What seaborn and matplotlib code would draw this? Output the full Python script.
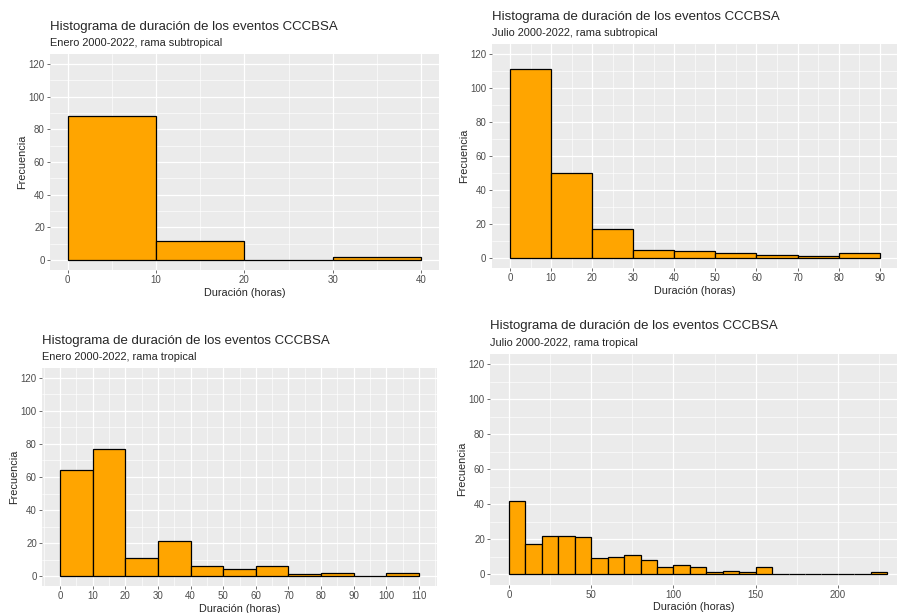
import numpy as np
import pandas as pd
import matplotlib
matplotlib.use("Agg")
import matplotlib.pyplot as plt
import seaborn as sns
from matplotlib.ticker import MultipleLocator

sns.set_style("white")
plt.rcParams['font.family'] = ['Liberation Sans', 'DejaVu Sans']

titulo = "Histograma de duración de los eventos CCCBSA"
subtitulos = ["Enero 2000-2022, rama subtropical",
              "Julio 2000-2022, rama subtropical",
              "Enero 2000-2022, rama tropical",
              "Julio 2000-2022, rama tropical"]

ancho_bin = 10
# frecuencias por bin de 10 horas, empezando en 0
enero_subtrop = [88, 12, 0, 2]
julio_subtrop = [111, 50, 17, 5, 4, 3, 2, 1, 3]
enero_trop = [64, 77, 11, 21, 6, 4, 6, 1, 2, 0, 2]
julio_trop = [42, 17, 22, 22, 21, 9, 10, 11, 8, 4, 5, 4, 1, 2, 1, 4,
              0, 0, 0, 0, 0, 0, 1]

W, H = 897, 613
fig = plt.figure(figsize=(W / 100, H / 100), dpi=100)

# (left, top, right, bottom) px, xlim, x major step
paneles = [
    (enero_subtrop, (50, 54, 438.7, 270), (-2, 42), 10),
    (julio_subtrop, (491.5, 43.8, 897, 268.2), (-4.5, 94.2), 10),
    (enero_trop, (42, 368, 437, 586), (-5.5, 115.5), 10),
    (julio_trop, (490, 353.5, 897, 584.5), (-11.5, 235.9), 50),
]

for i, (counts, (l, t, r, b), xlim, paso) in enumerate(paneles):
    ax = fig.add_axes([l / W, 1 - b / H, (r - l) / W, (b - t) / H])
    ax.set_facecolor('#EBEBEB')
    n = len(counts)
    df = pd.DataFrame({'dur': np.arange(n) * ancho_bin + ancho_bin / 2,
                       'freq': counts})
    sns.histplot(data=df, x='dur', weights='freq', binwidth=ancho_bin,
                 binrange=(0, n * ancho_bin), color='#FFA500',
                 edgecolor='black', linewidth=0.9, alpha=1, ax=ax)
    ax.set_xlim(*xlim)
    ax.set_ylim(-6, 126)
    ax.xaxis.set_major_locator(MultipleLocator(paso))
    ax.xaxis.set_minor_locator(MultipleLocator(paso / 2))
    ax.yaxis.set_major_locator(MultipleLocator(20))
    ax.yaxis.set_minor_locator(MultipleLocator(10))
    ax.set_axisbelow(True)
    ax.grid(which='major', color='white', linewidth=0.9)
    ax.grid(which='minor', color='white', linewidth=0.45)
    for s in ax.spines.values():
        s.set_visible(False)
    ax.tick_params(which='major', bottom=True, left=True, length=2.2,
                   width=0.5, color='#333333', labelsize=7,
                   labelcolor='#4D4D4D', pad=1.5)
    ax.tick_params(which='minor', bottom=False, left=False, length=0)
    ax.set_xlabel("Duración (horas)", fontsize=7.8, labelpad=2)
    ax.set_ylabel("Frecuencia", fontsize=7.8, labelpad=1)
    fig.text(l / W, 1 - (t - 24) / H, titulo, fontsize=9.5, va='baseline', ha='left')
    fig.text(l / W, 1 - (t - 8) / H, subtitulos[i], fontsize=7.9, va='baseline', ha='left')

fig.savefig("out.png", dpi=100)
